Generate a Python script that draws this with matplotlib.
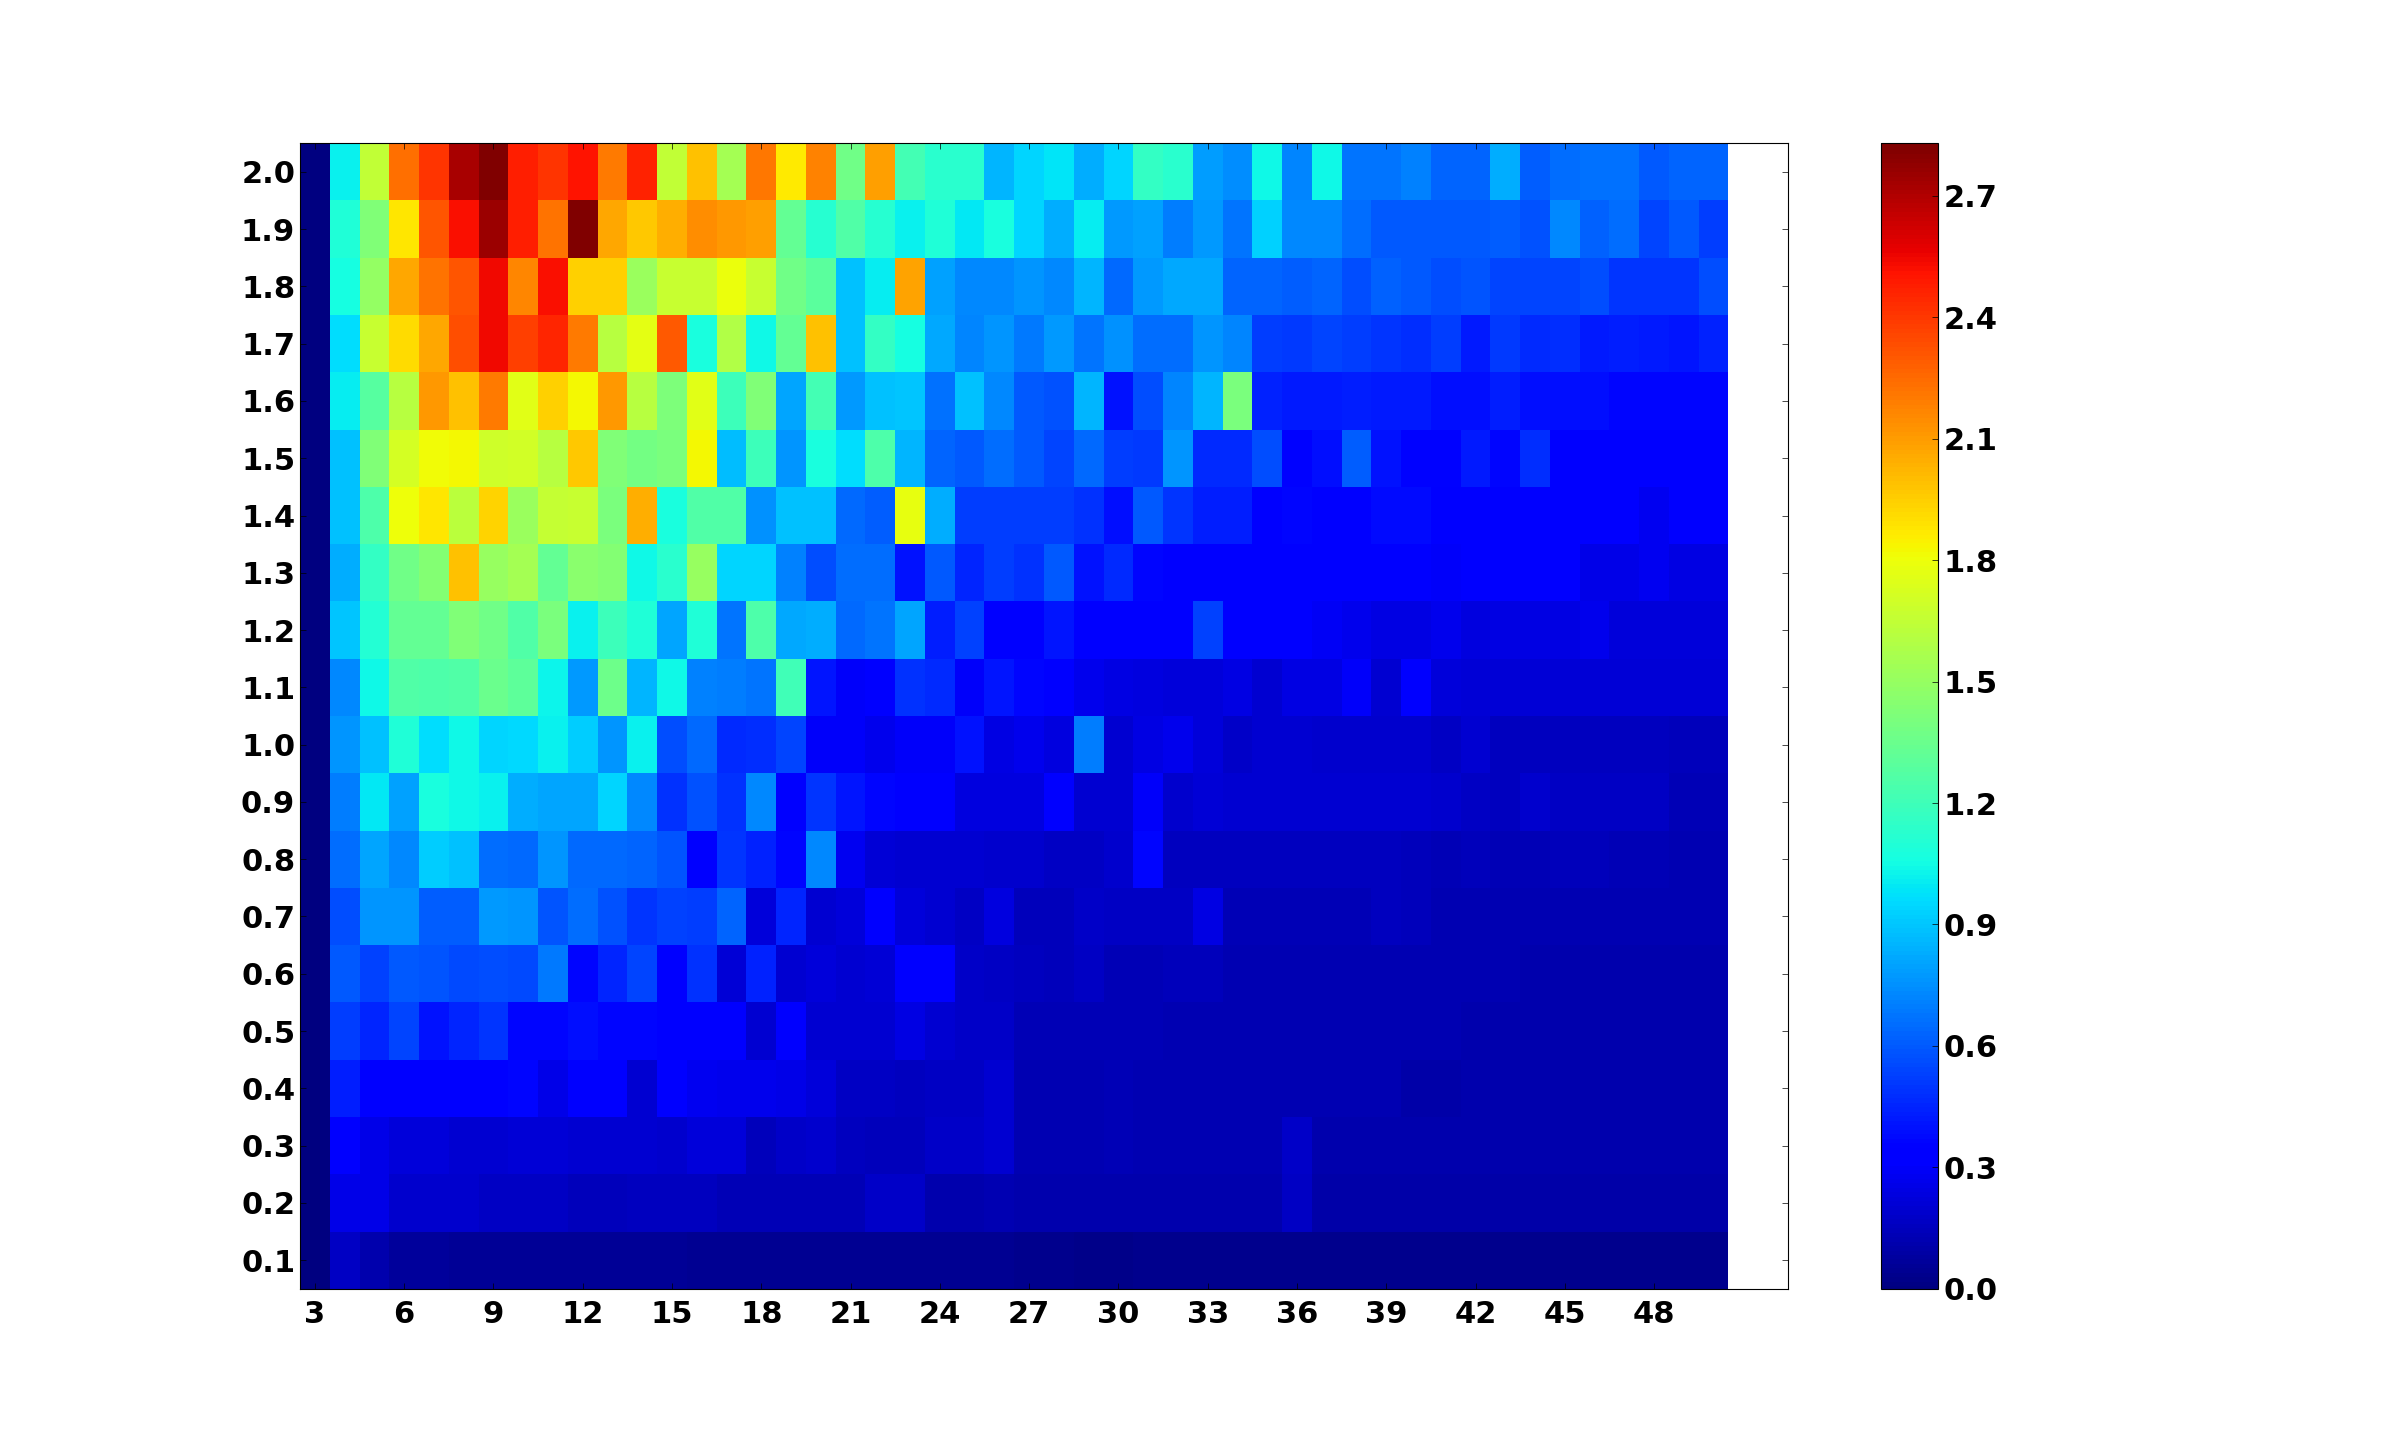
import numpy as np
import matplotlib
matplotlib.use("Agg")
import matplotlib.pyplot as plt

x_values = list(range(3, 51))
y_labels = ["0.1","0.2","0.3","0.4","0.5","0.6","0.7","0.8","0.9","1.0","1.1","1.2","1.3","1.4","1.5","1.6","1.7","1.8","1.9","2.0"]
y_values = [0.1*i for i in range(1, 21)]

r20 = [0,1.02,1.65,2.24,2.42,2.72,2.82,2.48,2.42,2.52,2.2,2.47,1.65,2.0,1.55,2.22,1.87,2.18,1.38,2.1,1.22,1.13,1.13,.86,.94,.99,.84,.94,1.17,1.13,.79,.75,1.05,.72,1.05,.68,.68,.71,.635,.635,.83,.61,.66,.67,.67,.6,.635,.635]
r19 = [0,1.1,1.43,1.88,2.32,2.53,2.76,2.48,2.23,2.83,2.07,1.97,2.05,2.15,2.12,2.1,1.33,1.12,1.27,1.12,1.02,1.1,1.0,1.08,.94,.84,1.01,.78,.8,.7,.78,.68,.93,.73,.73,.66,.6,.6,.6,.6,.61,.58,.73,.62,.66,.55,.6,.52]
r18 = [0,1.07,1.5,2.07,2.23,2.32,2.55,2.17,2.53,1.95,1.95,1.52,1.67,1.67,1.8,1.67,1.38,1.3,.895,1.01,2.08,.8,.74,.74,.77,.73,.86,.645,.78,.82,.82,.635,.635,.61,.635,.57,.625,.6,.57,.59,.55,.55,.55,.57,.5,.5,.5,.57]
r17 = [0,.97,1.68,1.92,2.07,2.34,2.55,2.38,2.46,2.2,1.62,1.77,2.3,1.08,1.6,1.05,1.33,2.0,.895,1.17,1.07,.82,.72,.77,.69,.78,.68,.76,.66,.66,.77,.72,.52,.51,.55,.52,.5,.48,.53,.43,.51,.47,.48,.43,.44,.43,.42,.45]
r16 = [0,1.01,1.29,1.62,2.12,1.99,2.2,1.76,1.95,1.83,2.12,1.62,1.42,1.76,1.2,1.43,.81,1.22,.78,.885,.905,.665,.895,.74,.6,.58,.86,.405,.57,.72,.855,1.41,.45,.43,.43,.44,.43,.43,.395,.395,.44,.395,.395,.395,.375,.375,.365,.365]
r15 = [0,.885,1.43,1.72,1.82,1.83,1.7,1.71,1.62,1.97,1.43,1.39,1.41,1.83,.875,1.2,.77,1.08,.97,1.25,.86,.635,.6,.655,.6,.55,.645,.52,.51,.77,.47,.47,.57,.355,.395,.61,.405,.355,.355,.43,.375,.48,.34,.34,.34,.34,.34,.34]
r14 = [0,.885,1.25,1.81,1.88,1.63,1.94,1.52,1.66,1.68,1.41,2.05,1.08,1.27,1.27,.76,.895,.885,.645,.61,1.78,.83,.52,.53,.52,.52,.49,.395,.6,.5,.44,.44,.33,.375,.345,.345,.385,.385,.33,.33,.33,.33,.33,.33,.33,.28,.33,.33]
r13 = [0,.83,1.17,1.38,1.44,2.0,1.51,1.55,1.33,1.46,1.44,1.05,1.13,1.51,.95,.94,.71,.57,.655,.655,.405,.6,.46,.52,.49,.6,.405,.47,.365,.33,.33,.33,.33,.33,.33,.33,.33,.33,.3,.33,.31,.31,.345,.26,.26,.28,.25,.25]
r12 = [0,.905,1.11,1.33,1.33,1.43,1.38,1.27,1.41,1.02,1.2,1.1,.81,1.1,.68,1.25,.82,.83,.645,.68,.81,.44,.54,.345,.345,.415,.345,.345,.345,.345,.54,.345,.33,.345,.29,.27,.25,.25,.27,.24,.25,.25,.25,.27,.23,.23,.23,.23]
r11 = [0,.73,1.05,1.27,1.26,1.27,1.35,1.31,1.03,.78,1.37,.855,1.05,.71,.7,.68,1.21,.415,.3,.345,.49,.47,.3,.415,.375,.33,.27,.25,.24,.23,.23,.25,.21,.25,.25,.3,.21,.33,.23,.22,.22,.22,.22,.22,.22,.22,.22,.22]
r10 = [0,.77,.885,1.1,.97,1.05,.94,.96,1.02,.925,.77,1.02,.57,.645,.47,.48,.55,.3,.3,.27,.3,.3,.405,.25,.27,.24,.7,.21,.25,.27,.23,.18,.2,.2,.19,.19,.19,.19,.17,.21,.16,.16,.16,.16,.16,.16,.15,.15]
r09 = [0,.7,1.0,.8,1.08,1.04,1.02,.83,.81,.81,.94,.73,.49,.58,.49,.73,.33,.5,.415,.375,.33,.33,.24,.24,.24,.345,.21,.21,.3,.19,.22,.2,.2,.2,.2,.2,.2,.2,.19,.17,.16,.19,.17,.17,.17,.17,.14,.14]
r08 = [0,.655,.81,.73,.925,.885,.655,.645,.77,.645,.645,.635,.595,.33,.5,.45,.365,.73,.28,.22,.21,.2,.2,.19,.19,.17,.17,.19,.365,.16,.16,.16,.16,.16,.16,.16,.16,.15,.14,.15,.14,.14,.15,.15,.14,.14,.13,.13]
r07 = [0,.57,.77,.77,.61,.61,.78,.77,.595,.655,.58,.5,.54,.52,.635,.23,.46,.21,.23,.33,.23,.2,.17,.24,.15,.15,.18,.17,.17,.17,.25,.14,.14,.14,.14,.14,.16,.15,.13,.13,.13,.13,.13,.13,.13,.13,.13,.13]
r06 = [0,.6,.54,.6,.595,.56,.57,.56,.69,.375,.46,.55,.33,.49,.22,.45,.2,.23,.21,.22,.33,.33,.18,.17,.16,.15,.17,.14,.14,.15,.15,.13,.13,.13,.13,.13,.13,.13,.13,.13,.13,.12,.12,.12,.12,.12,.12,.12]
r05 = [0,.52,.46,.55,.405,.46,.5,.375,.365,.395,.375,.375,.345,.33,.33,.2,.33,.21,.2,.21,.25,.21,.18,.18,.14,.14,.14,.14,.14,.13,.13,.13,.13,.13,.13,.13,.13,.13,.13,.12,.12,.12,.12,.12,.12,.12,.12,.12]
r04 = [0,.44,.33,.33,.33,.33,.33,.375,.26,.33,.31,.2,.33,.28,.27,.27,.26,.23,.17,.17,.16,.17,.17,.21,.13,.13,.13,.14,.13,.13,.13,.13,.13,.13,.13,.13,.13,.11,.11,.12,.12,.12,.12,.12,.12,.12,.12,.12]
r03 = [0,.33,.26,.23,.23,.21,.21,.22,.22,.21,.21,.2,.19,.23,.23,.15,.18,.19,.16,.15,.15,.18,.18,.21,.13,.13,.13,.14,.13,.13,.13,.13,.13,.18,.12,.12,.12,.12,.12,.12,.12,.12,.12,.12,.12,.12,.12,.12]
r02 = [0,.26,.26,.19,.19,.19,.17,.17,.17,.15,.15,.16,.16,.16,.14,.14,.14,.14,.14,.18,.18,.12,.12,.13,.12,.12,.12,.12,.12,.12,.12,.12,.12,.17,.11,.11,.11,.11,.11,.11,.11,.11,.11,.11,.11,.11,.11,.11]
r01 = [0,.17,.12,.07,.07,.06,.06,.06,.06,.06,.06,.06,.06,.05,.05,.05,.05,.05,.05,.05,.05,.05,.05,.05,.04,.04,.03,.03,.04,.04,.04,.04,.04,.04,.04,.04,.04,.04,.04,.04,.04,.04,.04,.04,.04,.04,.04,.04]

rows = [r01,r02,r03,r04,r05,r06,r07,r08,r09,r10,r11,r12,r13,r14,r15,r16,r17,r18,r19,r20]
for r in rows:
    assert len(r) == 48, len(r)
Z = np.array(rows)

x_edges = np.arange(2.5, 51.0, 1.0)
y_edges = np.arange(0.05, 2.1, 0.1)

plt.rcParams.update({"font.family": "DejaVu Sans", "font.weight": "bold", "font.size": 22,
                     "xtick.major.size": 4, "ytick.major.size": 4,
                     "xtick.major.width": 0.5, "ytick.major.width": 0.5,
                     "xtick.major.pad": 8, "ytick.major.pad": 3.5})

fig, ax = plt.subplots(figsize=(24, 14.32), dpi=100)
fig.subplots_adjust(left=0.125, right=0.9, top=0.9, bottom=0.1)
mesh = ax.pcolormesh(x_edges, y_edges, Z, cmap="jet", vmin=0, vmax=2.83, linewidth=0, rasterized=True)
ax.set_xlim(2.5, 52.5)
ax.set_ylim(0.05, 2.05)
ax.set_xticks(list(range(3, 49, 3)))
ax.set_yticks(y_values)
ax.set_yticklabels(y_labels)
ax.tick_params(direction="in", top=True, right=True, labelsize=22)

cbar = fig.colorbar(mesh, ax=ax)
cbar.set_ticks([0.3*i for i in range(0, 10)])
cbar.set_ticklabels(["%.1f" % (0.3*i) for i in range(0, 10)])
cbar.ax.tick_params(direction="in", length=4, width=0.5, labelsize=22, pad=3.5)
cbar.solids.set_edgecolor("face")

fig.savefig("out.png", dpi=100)
